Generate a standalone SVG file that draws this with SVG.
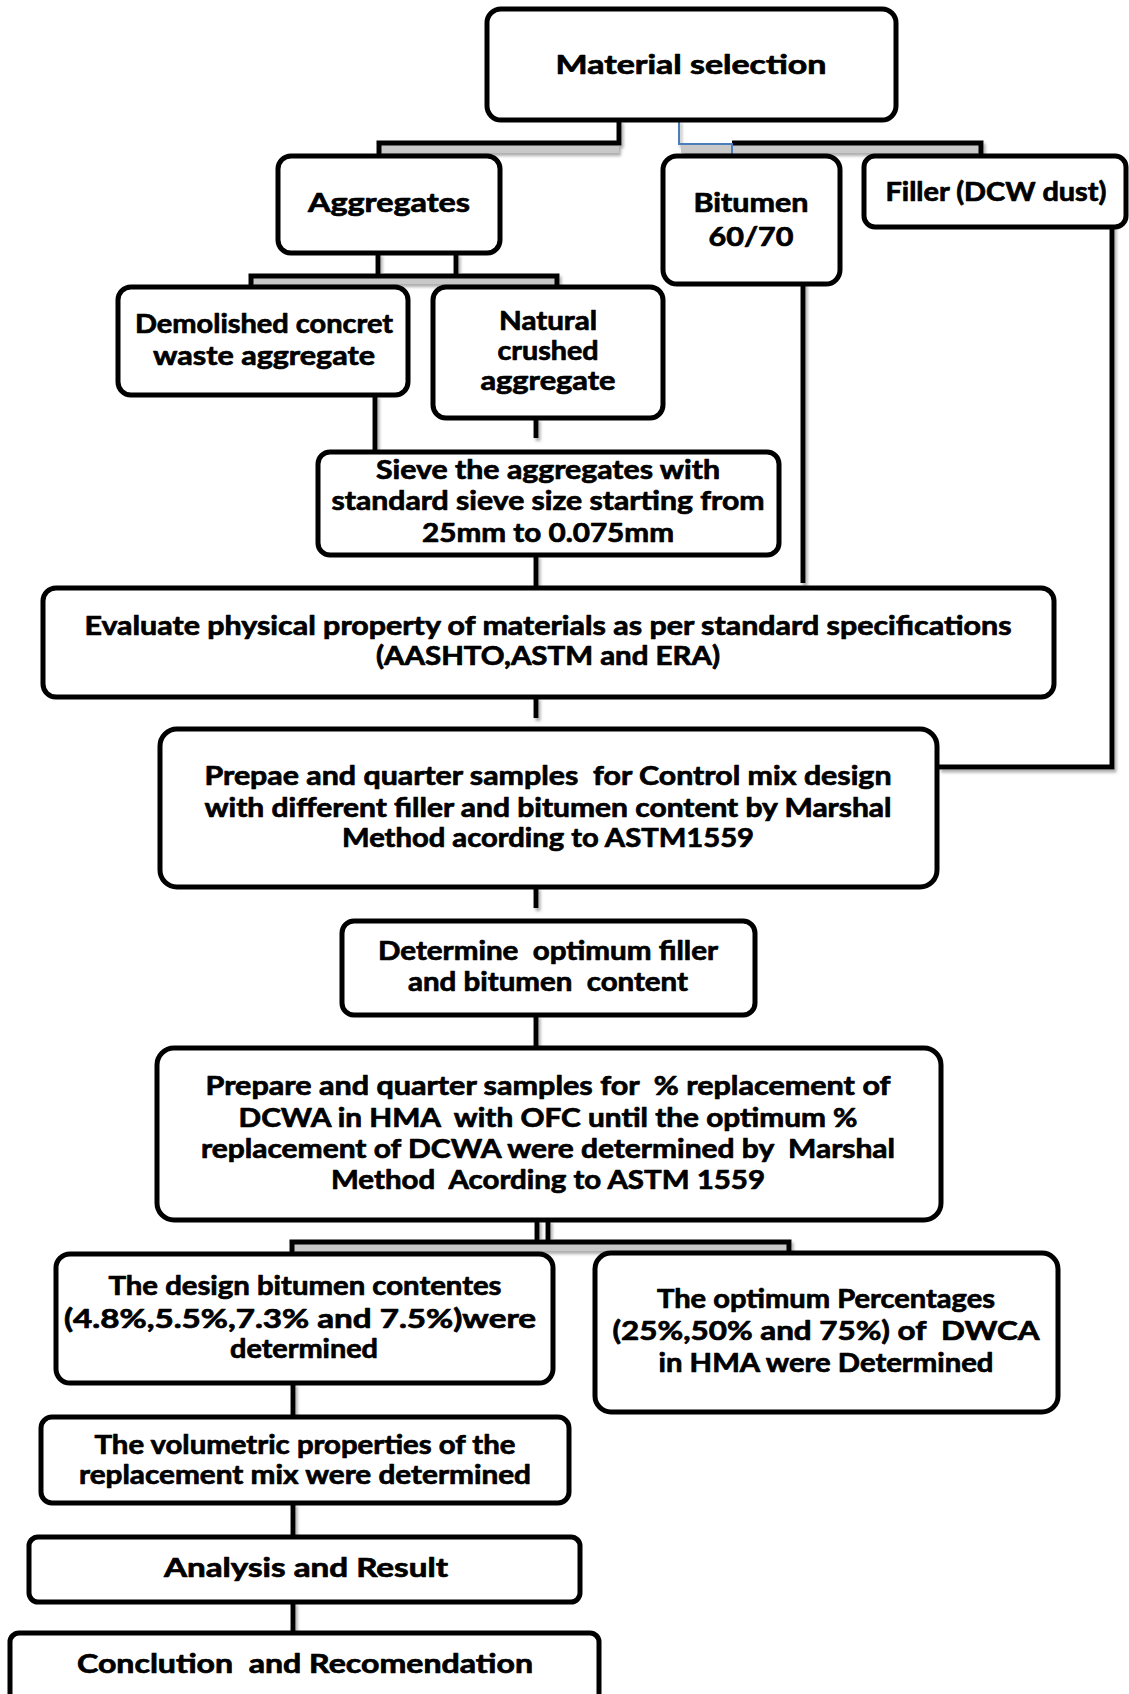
<svg xmlns="http://www.w3.org/2000/svg" width="1129" height="1694" viewBox="0 0 1129 1694">
<defs>
<style>
.box{fill:#fff;stroke:#000;stroke-width:5}
.t{font-family:Lato,"Liberation Sans",sans-serif;font-weight:700;font-size:26px;fill:#000;stroke:#000;stroke-width:0.7;stroke-linejoin:round;text-anchor:middle;white-space:pre}
.ln{fill:none;stroke:#000;stroke-width:5;stroke-linejoin:miter}
.bar{fill:#c8c8c8}
.blue{fill:none;stroke:#4a7ebb;stroke-width:2}
</style>
<filter id="sh" x="-20%" y="-20%" width="140%" height="140%">
<feDropShadow dx="2" dy="3" stdDeviation="1.5" flood-color="#777" flood-opacity="0.6"/>
</filter>
</defs>
<rect width="1129" height="1694" fill="#fff"/>
<g id="connectors" filter="url(#sh)">
<rect class="bar" x="381" y="145" width="238" height="8"/>
<polyline class="ln" points="619,120 619,143 379,143 379,157"/>
<rect class="bar" x="681" y="145" width="298" height="8"/>
<polyline class="ln" points="732,143 981,143 981,157"/>
<polyline class="blue" points="679,120 679,144 732,144 732,155"/>
<line class="ln" x1="378" y1="253" x2="378" y2="276"/>
<line class="ln" x1="456" y1="253" x2="456" y2="276"/>
<rect class="bar" x="252" y="277" width="304" height="7"/>
<polyline class="ln" points="251,288 251,276 557,276 557,288"/>
<line class="ln" x1="375" y1="395" x2="375" y2="452"/>
<line class="ln" x1="536" y1="418" x2="536" y2="438"/>
<line class="ln" x1="803" y1="282" x2="803" y2="583"/>
<polyline class="ln" points="1112,224 1112,767 939,767"/>
<line class="ln" x1="536" y1="555" x2="536" y2="588"/>
<line class="ln" x1="536" y1="697" x2="536" y2="718"/>
<line class="ln" x1="536" y1="887" x2="536" y2="908"/>
<line class="ln" x1="536" y1="1015" x2="536" y2="1048"/>
<line class="ln" x1="537" y1="1220" x2="537" y2="1242"/>
<line class="ln" x1="548" y1="1220" x2="548" y2="1242"/>
<rect class="bar" x="294" y="1244" width="494" height="7"/>
<polyline class="ln" points="292,1254 292,1242 789,1242 789,1254"/>
<line class="ln" x1="293" y1="1383" x2="293" y2="1417"/>
<line class="ln" x1="293" y1="1503" x2="293" y2="1537"/>
<line class="ln" x1="293" y1="1602" x2="293" y2="1633"/>
</g>
<g id="n-material">
<rect class="box" x="487" y="9" width="409" height="111" rx="14"/>
<text class="t" x="691" y="74" font-size="31" textLength="271" lengthAdjust="spacingAndGlyphs">Material selection</text>
</g>
<g id="n-aggregates">
<rect class="box" x="278" y="156" width="222" height="97" rx="13"/>
<text class="t" x="389" y="212" font-size="29" textLength="162" lengthAdjust="spacingAndGlyphs">Aggregates</text>
</g>
<g id="n-bitumen">
<rect class="box" x="663" y="156" width="177" height="128" rx="14"/>
<text class="t" x="751" y="212" font-size="29" textLength="115" lengthAdjust="spacingAndGlyphs">Bitumen</text>
<text class="t" x="751" y="246" font-size="29" textLength="85" lengthAdjust="spacingAndGlyphs">60/70</text>
</g>
<g id="n-filler">
<rect class="box" x="864" y="156" width="262" height="71" rx="11"/>
<text class="t" x="996" y="201" textLength="221" lengthAdjust="spacingAndGlyphs">Filler (DCW dust)</text>
</g>
<g id="n-demolished">
<rect class="box" x="118" y="287" width="290" height="108" rx="13"/>
<text class="t" x="264" y="333" textLength="258" lengthAdjust="spacingAndGlyphs">Demolished concret</text>
<text class="t" x="264" y="365" textLength="222" lengthAdjust="spacingAndGlyphs">waste aggregate</text>
</g>
<g id="n-natural">
<rect class="box" x="433" y="287" width="230" height="131" rx="13"/>
<text class="t" x="548" y="330" textLength="98" lengthAdjust="spacingAndGlyphs">Natural</text>
<text class="t" x="548" y="360" textLength="101" lengthAdjust="spacingAndGlyphs">crushed</text>
<text class="t" x="548" y="390" textLength="135" lengthAdjust="spacingAndGlyphs">aggregate</text>
</g>
<g id="n-sieve">
<rect class="box" x="318" y="452" width="461" height="103" rx="12"/>
<text class="t" x="548" y="479" textLength="344" lengthAdjust="spacingAndGlyphs">Sieve the aggregates with</text>
<text class="t" x="548" y="510" textLength="433" lengthAdjust="spacingAndGlyphs">standard sieve size starting from</text>
<text class="t" x="548" y="542" textLength="252" lengthAdjust="spacingAndGlyphs">25mm to 0.075mm</text>
</g>
<g id="n-evaluate">
<rect class="box" x="43" y="588" width="1011" height="109" rx="13"/>
<text class="t" x="548" y="635" textLength="927" lengthAdjust="spacingAndGlyphs">Evaluate physical property of materials as per standard specifications</text>
<text class="t" x="548" y="665" textLength="344" lengthAdjust="spacingAndGlyphs">(AASHTO,ASTM and ERA)</text>
</g>
<g id="n-prepae">
<rect class="box" x="160" y="729" width="777" height="158" rx="17"/>
<text class="t" x="548" y="785" textLength="687" lengthAdjust="spacingAndGlyphs">Prepae and quarter samples  for Control mix design</text>
<text class="t" x="548" y="817" textLength="687" lengthAdjust="spacingAndGlyphs">with different filler and bitumen content by Marshal</text>
<text class="t" x="548" y="847" textLength="412" lengthAdjust="spacingAndGlyphs">Method acording to ASTM1559</text>
</g>
<g id="n-determine">
<rect class="box" x="342" y="921" width="413" height="94" rx="12"/>
<text class="t" x="548" y="960" textLength="340" lengthAdjust="spacingAndGlyphs">Determine  optimum filler</text>
<text class="t" x="548" y="991" textLength="280" lengthAdjust="spacingAndGlyphs">and bitumen  content</text>
</g>
<g id="n-prepare">
<rect class="box" x="157" y="1048" width="784" height="172" rx="17"/>
<text class="t" x="548" y="1095" textLength="685" lengthAdjust="spacingAndGlyphs">Prepare and quarter samples for  % replacement of</text>
<text class="t" x="548" y="1127" textLength="619" lengthAdjust="spacingAndGlyphs">DCWA in HMA  with OFC until the optimum %</text>
<text class="t" x="548" y="1158" textLength="694" lengthAdjust="spacingAndGlyphs">replacement of DCWA were determined by  Marshal</text>
<text class="t" x="548" y="1189" textLength="434" lengthAdjust="spacingAndGlyphs">Method  Acording to ASTM 1559</text>
</g>
<g id="n-design">
<rect class="box" x="56" y="1254" width="497" height="129" rx="14"/>
<text class="t" x="305" y="1295" textLength="393" lengthAdjust="spacingAndGlyphs">The design bitumen contentes</text>
<text class="t" x="300" y="1328" textLength="472" lengthAdjust="spacingAndGlyphs">(4.8%,5.5%,7.3% and 7.5%)were</text>
<text class="t" x="304" y="1358" textLength="148" lengthAdjust="spacingAndGlyphs">determined</text>
</g>
<g id="n-optimum">
<rect class="box" x="595" y="1253" width="463" height="159" rx="16"/>
<text class="t" x="826" y="1308" textLength="338" lengthAdjust="spacingAndGlyphs">The optimum Percentages</text>
<text class="t" x="826" y="1340" textLength="427" lengthAdjust="spacingAndGlyphs">(25%,50% and 75%) of  DWCA</text>
<text class="t" x="826" y="1372" textLength="335" lengthAdjust="spacingAndGlyphs">in HMA were Determined</text>
</g>
<g id="n-volumetric">
<rect class="box" x="41" y="1417" width="528" height="86" rx="11"/>
<text class="t" x="305" y="1454" textLength="421" lengthAdjust="spacingAndGlyphs">The volumetric properties of the</text>
<text class="t" x="305" y="1484" textLength="452" lengthAdjust="spacingAndGlyphs">replacement mix were determined</text>
</g>
<g id="n-analysis">
<rect class="box" x="29" y="1537" width="551" height="65" rx="9"/>
<text class="t" x="306" y="1577" font-size="28" textLength="284" lengthAdjust="spacingAndGlyphs">Analysis and Result</text>
</g>
<g id="n-conclution">
<rect class="box" x="10" y="1633" width="589" height="80" rx="9"/>
<text class="t" x="305" y="1673" font-size="28" textLength="456" lengthAdjust="spacingAndGlyphs">Conclution  and Recomendation</text>
</g>
</svg>
